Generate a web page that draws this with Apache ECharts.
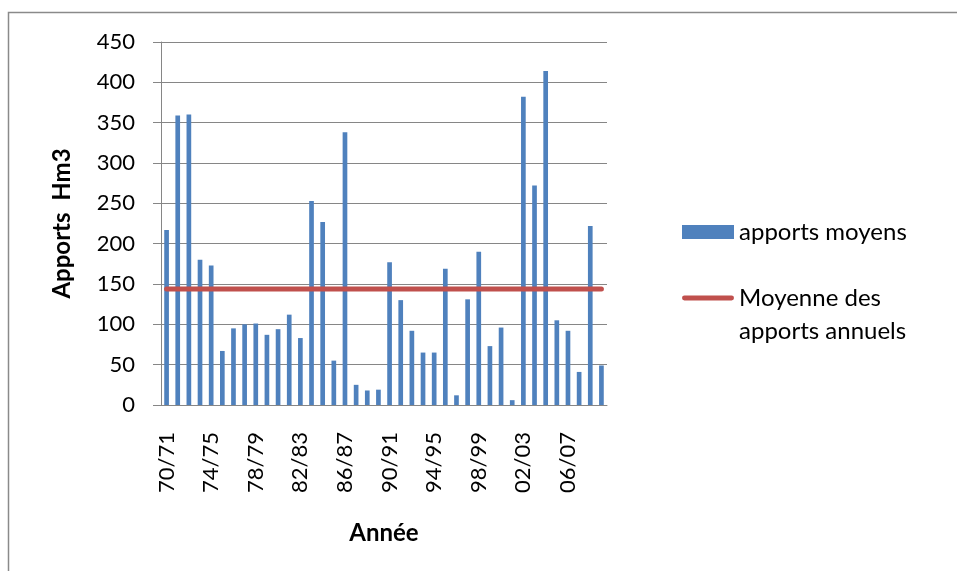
<!DOCTYPE html>
<html>
<head>
<meta charset="utf-8">
<script src="https://cdn.jsdelivr.net/npm/echarts@6/dist/echarts.min.js"></script>
<style>
  html, body { margin: 0; padding: 0; background: #fff; }
  #chart { width: 957px; height: 571px; }
</style>
</head>
<body>
<div id="chart"></div>
<script>
// Hydrological years 1970/71 to 2009/10
const categories = [
  '70/71','71/72','72/73','73/74','74/75','75/76','76/77','77/78','78/79','79/80',
  '80/81','81/82','82/83','83/84','84/85','85/86','86/87','87/88','88/89','89/90',
  '90/91','91/92','92/93','93/94','94/95','95/96','96/97','97/98','98/99','99/00',
  '00/01','01/02','02/03','03/04','04/05','05/06','06/07','07/08','08/09','09/10'
];

// Annual inflows (Hm3)
const apportsMoyens = [
  217, 359, 360, 180, 173, 67, 95, 100, 101, 87,
  94, 112, 83, 253, 227, 55, 338, 25, 18, 19,
  177, 130, 92, 65, 65, 169, 12, 131, 190, 73,
  96, 6, 382, 272, 414, 105, 92, 41, 222, 49
];

// Mean of the annual inflows (Hm3)
const moyenneAnnuelle = 143.7;
const moyenneSerie = categories.map(() => moyenneAnnuelle);

const yTicks = { min: 0, max: 450, interval: 50 };

const FONT = 'Lato';
const GRID_GREY = '#868686';
const BLUE = '#4F81BD';
const RED = '#C0504D';

// Rounded bar used as the legend swatch of the mean line
const LINE_ICON = 'path://M2.5,0h48a2.5,2.5 0 0 1 0,5h-48a2.5,2.5 0 0 1 0,-5z';

const chart = echarts.init(document.getElementById('chart'), null, { renderer: 'canvas' });

chart.setOption({
  animation: false,
  backgroundColor: '#ffffff',
  textStyle: { fontFamily: FONT, color: '#000' },
  graphic: [{
    type: 'rect',
    silent: true,
    shape: { x: 8.5, y: 12.5, width: 1200, height: 1200 },
    style: { fill: 'none', stroke: '#8a8a8a', lineWidth: 1.5 }
  }],
  grid: { left: 161, right: 350, top: 42, bottom: 166 },
  legend: {
    orient: 'vertical',
    left: 682,
    top: 215.5,
    padding: 0,
    itemGap: 0,
    itemWidth: 52,
    itemHeight: 14,
    textStyle: { fontFamily: FONT, fontSize: 24, color: '#000', lineHeight: 33 },
    formatter: name => name === 'Moyenne des apports annuels'
      ? '\nMoyenne des\napports annuels' : name,
    data: [
      { name: 'apports moyens', icon: 'rect', itemStyle: { color: BLUE } },
      { name: 'Moyenne des apports annuels', icon: LINE_ICON, itemStyle: { color: RED } }
    ]
  },
  xAxis: {
    type: 'category',
    data: categories,
    boundaryGap: true,
    name: 'Année',
    nameLocation: 'middle',
    nameGap: 116,
    nameTextStyle: { fontFamily: FONT, fontSize: 24, fontWeight: 'bold', color: '#000' },
    axisLine: { lineStyle: { color: GRID_GREY, width: 1 } },
    axisTick: { show: false },
    axisLabel: {
      interval: 3,
      rotate: 90,
      margin: 27,
      fontFamily: FONT,
      fontSize: 22,
      color: '#000'
    },
    splitLine: { show: false }
  },
  yAxis: {
    type: 'value',
    min: yTicks.min,
    max: yTicks.max,
    interval: yTicks.interval,
    name: 'Apports  Hm3',
    nameLocation: 'middle',
    nameGap: 87,
    nameTextStyle: { fontFamily: FONT, fontSize: 24, fontWeight: 'bold', color: '#000' },
    axisLine: { show: true, lineStyle: { color: GRID_GREY, width: 1 } },
    axisTick: { show: true, inside: false, length: 8, lineStyle: { color: GRID_GREY } },
    axisLabel: { margin: 26, fontFamily: FONT, fontSize: 22, color: '#000' },
    splitLine: { show: true, lineStyle: { color: GRID_GREY, width: 1 } }
  },
  series: [
    {
      name: 'apports moyens',
      type: 'bar',
      data: apportsMoyens,
      barWidth: '42%',
      itemStyle: { color: BLUE },
      z: 2
    },
    {
      name: 'Moyenne des apports annuels',
      type: 'line',
      data: moyenneSerie,
      symbol: 'none',
      lineStyle: { color: RED, width: 5, cap: 'round' },
      itemStyle: { color: RED },
      z: 3
    }
  ]
});
</script>
</body>
</html>
